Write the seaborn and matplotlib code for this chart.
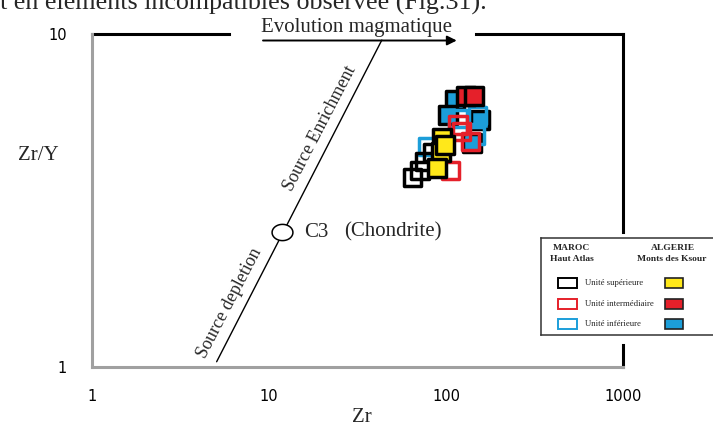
import numpy as np
import matplotlib
matplotlib.use("Agg")
import matplotlib.pyplot as plt
from matplotlib.path import Path
from matplotlib.patches import Rectangle
import pandas as pd
import seaborn as sns

# Zr (ppm) and Zr/Y
maroc_sup_zr = [64.3, 71.3, 76.1, 83.4]
maroc_sup_ratio = [3.70, 3.90, 4.13, 4.42]
alg_sup_zr = [94.9, 93.7, 89.0, 98.7]
alg_sup_ratio = [4.87, 4.42, 3.96, 4.64]
maroc_int_zr = [105.4, 123.1, 136.7, 116.9]
maroc_int_ratio = [3.90, 5.08, 4.74, 5.33]
alg_int_zr = [129.5, 143.9]
alg_int_ratio = [6.53, 6.53]
maroc_inf_zr = [79.1, 150.0, 116.9, 145.9]
maroc_inf_ratio = [4.58, 5.71, 5.59, 4.97]
alg_inf_zr = [112.4, 102.6, 155.6, 140.2]
alg_inf_ratio = [6.33, 5.71, 5.52, 4.71]

chondrite_zr = [11.8]
chondrite_ratio = [2.54]

trend_zr = [5.06, 43.4]
trend_ratio = [1.037, 9.59]

x_ticks = [1, 10, 100, 1000]
y_ticks = [1, 10]

YELLOW = "#FFE81A"
RED = "#E5202A"
BLUE = "#1C9ED9"

sns.set_style("white")
plt.rcParams["font.family"] = ["Liberation Serif", "DejaVu Serif"]

fig = plt.figure(figsize=(7.13, 4.32), dpi=100)
ax = fig.add_axes([92 / 713, 65 / 432, 531 / 713, 333 / 432])
ax.set_xscale("log")
ax.set_yscale("log")

groups = [
    (alg_inf_zr, alg_inf_ratio, BLUE, "black"),
    (maroc_inf_zr, maroc_inf_ratio, "none", BLUE),
    (maroc_sup_zr, maroc_sup_ratio, "none", "black"),
    (maroc_int_zr, maroc_int_ratio, "none", RED),
    (alg_sup_zr, alg_sup_ratio, YELLOW, "black"),
    (alg_int_zr, alg_int_ratio, RED, "black"),
]
for zr, ratio, face, edge in groups:
    df = pd.DataFrame({"Zr": zr, "ZrY": ratio})
    sns.scatterplot(data=df, x="Zr", y="ZrY", ax=ax, marker="s", s=150,
                    facecolor=face, edgecolor=edge, linewidth=2.5, zorder=3)

# chondrite reference
t = np.linspace(0, 2 * np.pi, 60)
ellipse = Path(np.column_stack([np.cos(t), 0.78 * np.sin(t)]), closed=True)
ax.plot(chondrite_zr, chondrite_ratio, marker=ellipse, markersize=15,
        markerfacecolor="white", markeredgecolor="black", markeredgewidth=1.1,
        linestyle="none", zorder=4)
ax.plot(trend_zr, trend_ratio, color="black", lw=1.0, zorder=2)

ax.text(15.8, 2.54, "C3", fontsize=15, va="center", ha="left")
ax.text(26.5, 2.54, "(Chondrite)", fontsize=15, va="center", ha="left")
ax.text(19.4, 5.22, "Source Enrichment", fontsize=13, rotation=62.5,
        ha="center", va="center", rotation_mode="anchor")
ax.text(6.02, 1.556, "Source depletion", fontsize=13, rotation=62.5,
        ha="center", va="center", rotation_mode="anchor")

ax.set_xlim(1, 1000)
ax.set_ylim(1, 10)
ax.set_xticks(x_ticks)
ax.set_xticklabels([str(v) for v in x_ticks])
ax.set_yticks(y_ticks)
ax.set_yticklabels([str(v) for v in y_ticks])
ax.minorticks_off()
ax.set_xlabel("")
ax.set_ylabel("")
for lab in ax.get_xticklabels() + ax.get_yticklabels():
    lab.set_family("DejaVu Sans")
    lab.set_fontsize(10.5)
ax.tick_params(axis="x", colors="#9A9A9A", labelcolor="black", length=4,
               width=2, direction="out", pad=12)
ax.tick_params(axis="y", colors="#9A9A9A", labelcolor="black", length=7,
               width=2, direction="out", pad=11)

for side in ["top", "right"]:
    ax.spines[side].set_visible(False)
for side in ["left", "bottom"]:
    ax.spines[side].set_color("#A0A0A0")
    ax.spines[side].set_linewidth(2.2)

# top and right frame with gaps
kw = dict(color="black", lw=2.2, clip_on=False, solid_capstyle="projecting")
ax.plot([1, 5.94], [10, 10], **kw)
ax.plot([147.7, 1000], [10, 10], **kw)
ax.plot([1000, 1000], [10, 2.54], **kw)
ax.plot([1000, 1000], [1.164, 1.0], **kw)

ax.annotate("", xy=(115, 9.56), xytext=(9.25, 9.56),
            arrowprops=dict(arrowstyle="-|>", color="black", lw=1.4,
                            mutation_scale=14, shrinkA=0, shrinkB=0),
            annotation_clip=False)
ax.text(31.3, 10.17, "Evolution magmatique", fontsize=15, ha="center",
        va="baseline", clip_on=False)

fig.text(362 / 713, 1 - 418 / 432, "Zr", fontsize=15, ha="center", va="center")
fig.text(38 / 713, 1 - 155 / 432, "Zr/Y", fontsize=15, ha="center", va="center")

fig.text(0.0, 1 - 10 / 432, "t en éléments incompatibles observée (Fig.31).",
         fontsize=18.7, ha="left", va="baseline")

# legend box (pixel coordinates)
lg = fig.add_axes([541 / 713, (432 - 335) / 432, (723 - 541) / 713, 97 / 432])
lg.set_xlim(541, 723)
lg.set_ylim(335, 238)
lg.set_xticks([])
lg.set_yticks([])
for sp in lg.spines.values():
    sp.set_color("#333333")
    sp.set_linewidth(1.1)
lg.text(571, 248, "MAROC", fontsize=6.8, weight="bold", ha="center", va="center")
lg.text(572, 259, "Haut Atlas", fontsize=6.8, weight="bold", ha="center", va="center")
lg.text(673, 248, "ALGERIE", fontsize=6.8, weight="bold", ha="center", va="center")
lg.text(637, 259, "Monts des Ksour", fontsize=6.8, weight="bold", ha="left", va="center")

rows = [
    ("Unité supérieure", "black", YELLOW, 283),
    ("Unité intermédiaire", RED, RED, 304),
    ("Unité inférieure", BLUE, BLUE, 324),
]
for label, edge, face, yc in rows:
    lg.add_patch(Rectangle((558, yc - 5), 19, 10, facecolor="white",
                           edgecolor=edge, lw=1.4))
    lg.add_patch(Rectangle((665, yc - 5), 18, 10, facecolor=face,
                           edgecolor="#222222", lw=1.2))
    lg.text(585, yc, label, fontsize=6.3, ha="left", va="center")

fig.savefig("out.png", dpi=100)
